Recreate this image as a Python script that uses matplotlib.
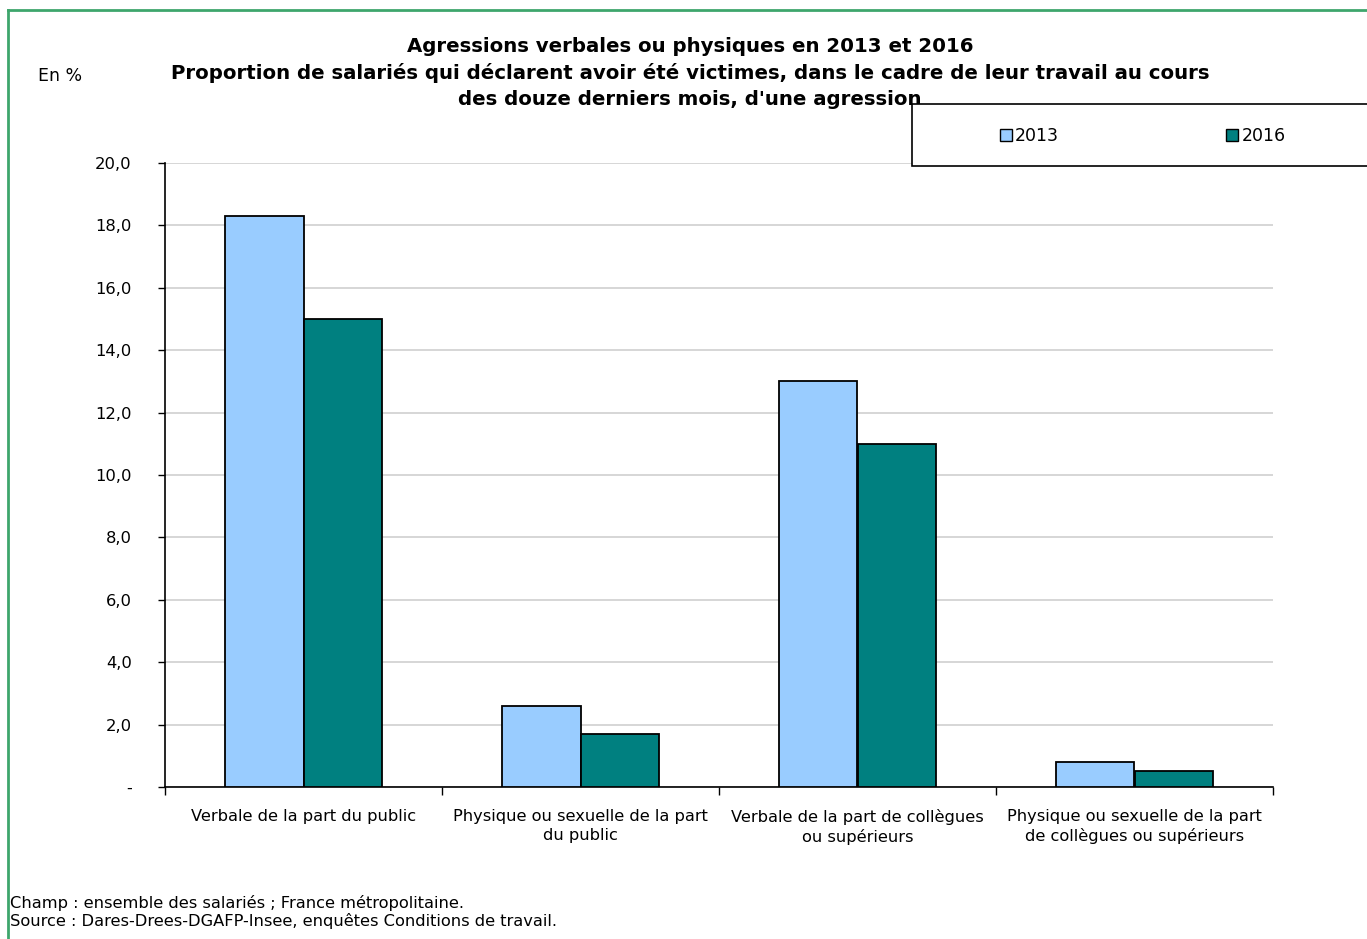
import numpy as np
import matplotlib
matplotlib.use('Agg')
import matplotlib.pyplot as plt
from matplotlib.patches import Rectangle, Patch
from matplotlib.lines import Line2D

# données
categories = ['Verbale de la part du public',
              'Physique ou sexuelle de la part\ndu public',
              'Verbale de la part de collègues\nou supérieurs',
              'Physique ou sexuelle de la part\nde collègues ou supérieurs']
val_2013 = [18.3, 2.6, 13.0, 0.8]
val_2016 = [15.0, 1.7, 11.0, 0.5]
annees = ['2013', '2016']

plt.rcParams['font.family'] = ['DejaVu Sans']

W, H = 1367, 939
fig = plt.figure(figsize=(W / 100, H / 100), dpi=100)
ax = fig.add_axes([165 / W, 1 - 787 / H, (1273 - 165) / W, (787 - 163) / H])

x = np.arange(len(categories))
w = 0.285
ax.bar(x - w / 2, val_2013, w, color='#99ccff', edgecolor='black', linewidth=1.3, zorder=3)
ax.bar(x + w / 2, val_2016, w, color='#008080', edgecolor='black', linewidth=1.3, zorder=3)

ax.set_xlim(-0.5, 3.5)
ax.set_ylim(0, 20)
ax.set_yticks(np.arange(0, 21, 2))
ax.set_yticklabels(['-'] + [f'{v:.1f}'.replace('.', ',') for v in np.arange(2, 21, 2)], fontsize=11.8)
ax.yaxis.grid(True, color='#d0d0d0', linewidth=1.2, zorder=0)
ax.tick_params(axis='y', length=5, width=1, pad=19, colors='black')

ax.set_xticks(x)
ax.set_xticklabels(categories, fontsize=11.7, linespacing=1.3)
ax.tick_params(axis='x', which='major', length=0, pad=16)
ax.set_xticks(np.arange(-0.5, 4, 1), minor=True)
ax.tick_params(axis='x', which='minor', length=6, width=1)

for s in ['top', 'right']:
    ax.spines[s].set_visible(False)
ax.spines['left'].set_linewidth(1.2)
ax.spines['bottom'].set_linewidth(1.2)

# titre
fig.text(690 / W, 1 - 73 / H,
         "Agressions verbales ou physiques en 2013 et 2016\n"
         "Proportion de salariés qui déclarent avoir été victimes, dans le cadre de leur travail au cours\n"
         "des douze derniers mois, d'une agression",
         ha='center', va='center', fontsize=14.2, fontweight='bold', linespacing=1.47)
fig.text(38 / W, 1 - 76 / H, 'En %', ha='left', va='center', fontsize=12.5)

# légende
fig.patches.append(Rectangle((912 / W, 1 - 166 / H), 0.5, 62 / H, transform=fig.transFigure,
                             facecolor='white', edgecolor='black', linewidth=1.2, zorder=5))
handles = [Patch(facecolor='#99ccff', edgecolor='black', label=annees[0]),
           Patch(facecolor='#008080', edgecolor='black', label=annees[1])]
leg = fig.legend(handles=handles, loc='center left', bbox_to_anchor=(984 / W, 1 - 136 / H), ncol=2,
                 frameon=False, fontsize=12.5, handlelength=0.7, handleheight=0.7,
                 handletextpad=0.2, columnspacing=9.6)
leg.set_zorder(6)

# notes
fig.text(10 / W, 1 - 903 / H, 'Champ : ensemble des salariés ; France métropolitaine.',
         ha='left', va='center', fontsize=11.7)
fig.text(10 / W, 1 - 921 / H, 'Source : Dares-Drees-DGAFP-Insee, enquêtes Conditions de travail.',
         ha='left', va='center', fontsize=11.7)

# cadre vert
vert = '#3ea66c'
fig.add_artist(Line2D([8 / W, 1], [1 - 10 / H, 1 - 10 / H], color=vert, linewidth=2, transform=fig.transFigure))
fig.add_artist(Line2D([8 / W, 8 / W], [1 - 10 / H, 0], color=vert, linewidth=2, transform=fig.transFigure))

fig.savefig('out.png', dpi=100)
